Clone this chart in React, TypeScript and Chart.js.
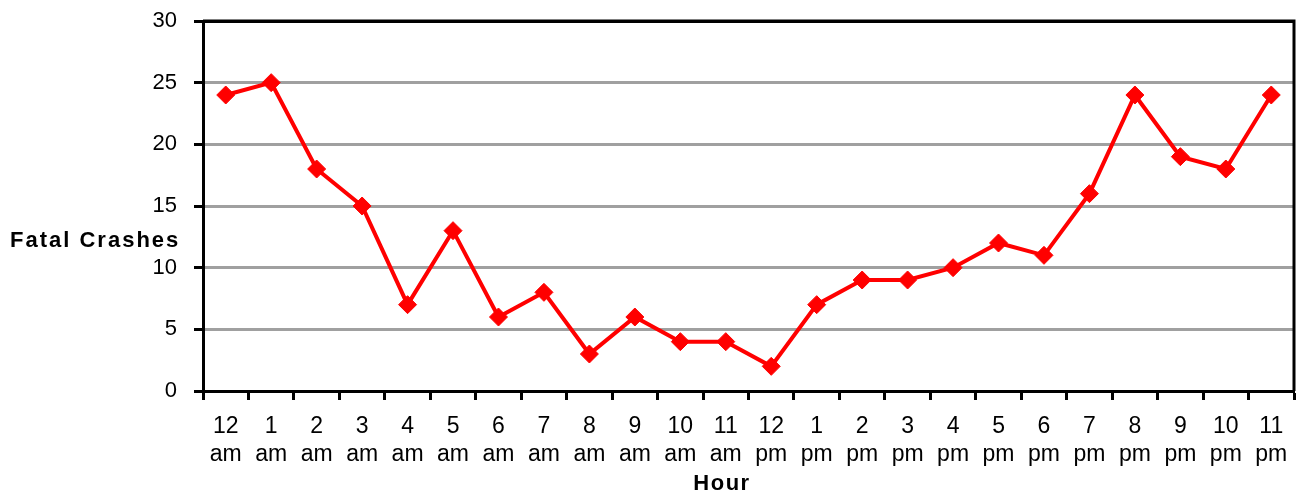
import React, { useEffect, useRef } from "react";
import { Chart, registerables } from "chart.js";

Chart.register(...registerables);

const hours: string[] = ["12", "1", "2", "3", "4", "5", "6", "7", "8", "9", "10", "11", "12", "1", "2", "3", "4", "5", "6", "7", "8", "9", "10", "11"];
const periods: string[] = ["am", "am", "am", "am", "am", "am", "am", "am", "am", "am", "am", "am", "pm", "pm", "pm", "pm", "pm", "pm", "pm", "pm", "pm", "pm", "pm", "pm"];
const fatalCrashes: number[] = [24, 25, 18, 15, 7, 13, 6, 8, 3, 6, 4, 4, 2, 7, 9, 9, 10, 12, 11, 16, 24, 19, 18, 24];
const yTitle = "Fatal Crashes";
const xTitle = "Hour";

const FONT = "Arial, 'Liberation Sans', sans-serif";

export default function App() {
  const ref = useRef<HTMLCanvasElement | null>(null);

  useEffect(() => {
    if (!ref.current) return;
    const framePlugin = {
      id: "frame",
      beforeDatasetsDraw(chart: any) {
        const { ctx, chartArea } = chart;
        ctx.save();
        ctx.strokeStyle = "#000";
        ctx.lineWidth = 3;
        ctx.beginPath();
        ctx.moveTo(chartArea.left, chartArea.top);
        ctx.lineTo(chartArea.right, chartArea.top);
        ctx.lineTo(chartArea.right, chartArea.bottom);
        ctx.stroke();
        ctx.restore();
      },
      afterDraw(chart: any) {
        const { ctx } = chart;
        ctx.save();
        ctx.fillStyle = "#000";
        ctx.font = `bold 22px ${FONT}`;
        ctx.textBaseline = "middle";
        ctx.textAlign = "left";
        (ctx as any).letterSpacing = "2px";
        ctx.fillText(yTitle, 10, 241);
        (ctx as any).letterSpacing = "1.5px";
        ctx.textAlign = "center";
        ctx.fillText(xTitle, 722, 484);
        ctx.restore();
      },
    };

    const chart = new Chart(ref.current, {
      type: "line",
      data: {
        labels: hours.map((h, i) => [h, periods[i]]),
        datasets: [
          {
            data: fatalCrashes,
            borderColor: "#ff0000",
            backgroundColor: "#ff0000",
            borderWidth: 4,
            pointStyle: "rectRot",
            pointRadius: 9,
            pointBorderWidth: 1,
            pointBorderColor: "#ff0000",
            pointBackgroundColor: "#ff0000",
            tension: 0,
            clip: false,
          },
        ],
      },
      options: {
        responsive: false,
        animation: false,
        layout: { padding: { top: 21, right: 6, left: 0, bottom: 0 } },
        plugins: { legend: { display: false }, tooltip: { enabled: false } },
        scales: {
          x: {
            type: "category",
            offset: true,
            grid: {
              offset: true,
              drawOnChartArea: false,
              drawTicks: true,
              tickLength: 9,
              tickColor: "#000",
              tickWidth: 3,
            },
            border: { color: "#000", width: 3 },
            ticks: {
              color: "#000",
              font: { family: FONT, size: 23, lineHeight: 1.22 },
              padding: 13,
              maxRotation: 0,
              autoSkip: false,
            },
            afterFit(scale: any) {
              scale.height = 106;
              scale.paddingLeft = 0;
              scale.paddingRight = 0;
            },
          },
          y: {
            min: 0,
            max: 30,
            grid: {
              color: (c: any) => (c.tick && c.tick.value === 30 ? "#000" : "#a0a0a0"),
              lineWidth: 3,
              tickLength: 9,
              tickColor: "#000",
              tickWidth: 3,
            },
            border: { color: "#000", width: 3 },
            ticks: {
              stepSize: 5,
              color: "#000",
              font: { family: FONT, size: 22 },
              padding: 17,
            },
            afterFit(scale: any) {
              scale.width = 203;
              scale.paddingTop = 0;
              scale.paddingBottom = 0;
            },
          },
        },
      },
      plugins: [framePlugin],
    });
    return () => chart.destroy();
  }, []);

  return (
    <div style={{ position: "fixed", left: 0, top: 0, width: 1304, height: 497, background: "#fff" }}>
      <canvas ref={ref} width={1304} height={497} />
    </div>
  );
}
